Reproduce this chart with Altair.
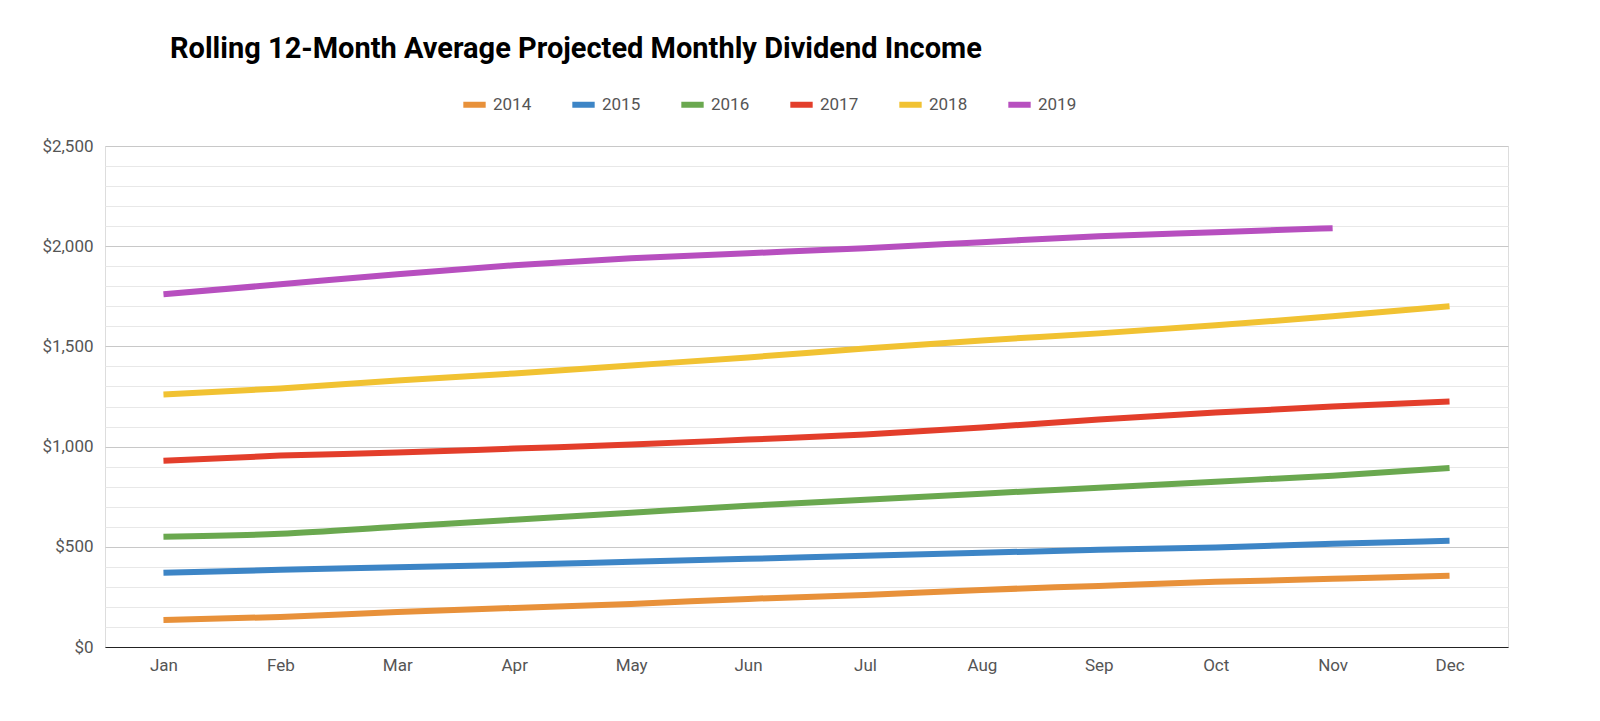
import altair as alt
import pandas as pd

months = ["Jan", "Feb", "Mar", "Apr", "May", "Jun", "Jul", "Aug", "Sep", "Oct", "Nov", "Dec"]
years = ["2014", "2015", "2016", "2017", "2018", "2019"]
colors = ["#e8913a", "#3d85c6", "#6aa84f", "#e33e2b", "#f1c232", "#b74fbf"]
title = "Rolling 12-Month Average Projected Monthly Dividend Income"

v2014 = [135, 150, 175, 195, 215, 240, 260, 285, 305, 325, 340, 355]
v2015 = [370, 385, 398, 410, 425, 440, 455, 470, 485, 497, 515, 530]
v2016 = [550, 565, 600, 635, 670, 705, 735, 765, 795, 825, 855, 893]
v2017 = [930, 955, 970, 990, 1010, 1035, 1060, 1095, 1135, 1170, 1200, 1225]
v2018 = [1260, 1290, 1330, 1365, 1405, 1445, 1490, 1530, 1565, 1605, 1650, 1700]
v2019 = [1760, 1810, 1860, 1905, 1940, 1965, 1990, 2020, 2050, 2070, 2090, None]

rows = []
for y, vals in zip(years, [v2014, v2015, v2016, v2017, v2018, v2019]):
    for m, v in zip(months, vals):
        if v is not None:
            rows.append({"month": m, "year": y, "value": v})
df = pd.DataFrame(rows)

lines = alt.Chart(df).mark_line(strokeWidth=6, interpolate="monotone").encode(
    x=alt.X("month:N", sort=months, title=None,
            scale=alt.Scale(padding=0.5),
            axis=alt.Axis(grid=False, ticks=False, labelAngle=0, labelFontSize=17,
                          labelColor="#555", labelPadding=10, domainColor="#222")),
    y=alt.Y("value:Q", title=None,
            scale=alt.Scale(domain=[0, 2500], nice=False),
            axis=alt.Axis(values=list(range(0, 2501, 100)), domain=False, ticks=False,
                          labelExpr="datum.value % 500 == 0 ? '$' + format(datum.value, ',') : ''",
                          labelFontSize=17, labelColor="#555", labelPadding=12,
                          gridColor={"condition": {"test": "datum.value % 500 == 0", "value": "#c8c8c8"},
                                     "value": "#e8e8e8"})),
    color=alt.Color("year:N", scale=alt.Scale(domain=years, range=colors),
                    legend=alt.Legend(title=None, orient="none", legendX=355, legendY=-56,
                                      direction="horizontal", symbolType="stroke",
                                      symbolStrokeWidth=6, symbolSize=500,
                                      labelFontSize=17, labelColor="#555", columnPadding=28)),
)

heading = alt.Chart(pd.DataFrame({"t": [title]})).mark_text(
    align="left", baseline="bottom", fontSize=29, fontWeight="bold", color="#000"
).encode(x=alt.value(65), y=alt.value(-82), text="t:N")

chart = alt.layer(lines, heading).properties(
    width=1403, height=501,
    autosize=alt.AutoSizeParams(type="none"),
    padding={"left": 97, "top": 138, "right": 70, "bottom": 50},
).configure_view(stroke=None, strokeWidth=0).configure(font="Roboto")

chart.save("out.html", embed_options={"renderer": "svg", "actions": False})
